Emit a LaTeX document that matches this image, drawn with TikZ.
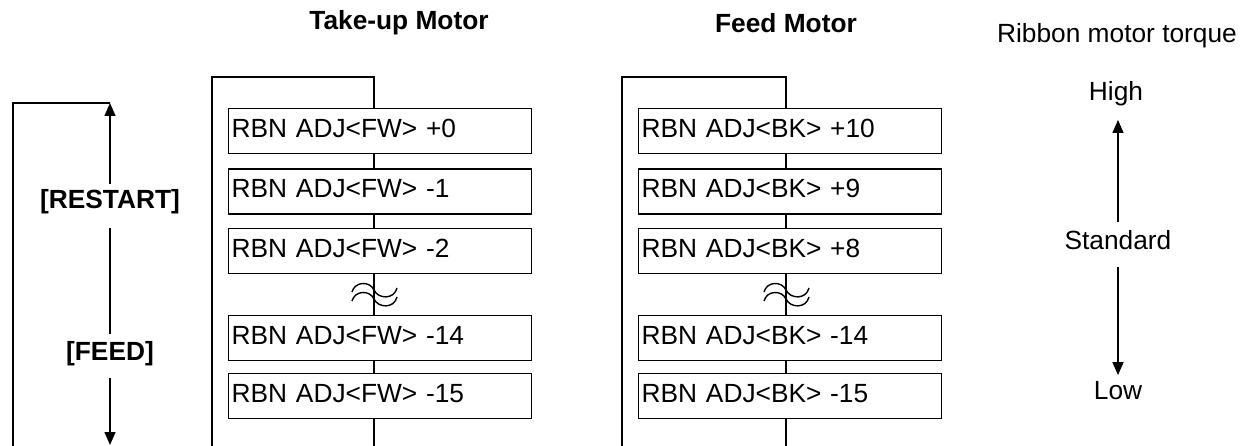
\documentclass[tikz,border=0pt]{standalone}
\usepackage{fontspec}
\setmainfont{Liberation Sans}
\usetikzlibrary{arrows.meta}
\newcommand\myfs{\fontsize{26.3}{30}\selectfont}
\newcommand\mywave[2]{%
  \draw[ln] (#1-22,#2+2) .. controls (#1-19,#2-9) and (#1-4,#2-9) .. (#1,#2) .. controls (#1+4,#2+9) and (#1+20,#2+10) .. (#1+23,#2-2);
  \draw[ln] (#1-22,#2+11) .. controls (#1-19,#2) and (#1-4,#2) .. (#1,#2+9) .. controls (#1+4,#2+18) and (#1+20,#2+19) .. (#1+23,#2+7);
}
\tikzset{
  ln/.style={line width=1.4pt},
  rbox/.style={draw, line width=1.4pt, rectangle, minimum width=303pt, minimum height=45pt,
    text width=297pt, text depth=6pt, align=left, inner xsep=3pt, inner ysep=0pt, anchor=north west, font=\myfs},
  lbl/.style={font=\myfs, inner sep=0pt},
  blbl/.style={font=\myfs\bfseries, inner sep=0pt},
  arr/.style={-{Triangle[width=11pt,length=13pt]}, line width=1.4pt}
}
\begin{document}
\begin{tikzpicture}[x=1pt,y=-1pt]
\useasboundingbox (0,0) rectangle (1251,446);

% titles
\node[blbl] (t1) at (399,23) {Take-up Motor};
\node[blbl] (t2) at (786,23) {Feed Motor};

% left bracket
\coordinate (b0) at (13,446);
\coordinate (b1) at (110,103);
\coordinate (b2) at (110,445);
\node[blbl] (restart) at (110,202) {[RESTART]};
\node[blbl] (feed) at (110,354) {[FEED]};
\draw[ln] (b0) |- (b1);
\draw[arr] ([yshift=6pt]restart.north) -- (b1);
\draw[ln] ([yshift=-14pt]restart.south) -- ([yshift=8pt]feed.north);
\draw[arr] ([yshift=-12pt]feed.south) -- (b2);

% left panel
\node[rbox] (l1) at (228,108) {RBN ADJ<FW> +0};
\node[rbox] (l2) at (228,168.5) {RBN ADJ<FW> -1};
\node[rbox] (l3) at (228,228) {RBN ADJ<FW> -2};
\node[rbox] (l4) at (228,315) {RBN ADJ<FW> -14};
\node[rbox] (l5) at (228,373) {RBN ADJ<FW> -15};
\coordinate (lp0) at (212,446);
\coordinate (lp1) at (374,77);
\coordinate (lp2) at (374,446);
\draw[ln] (lp0) |- (lp1) -- (lp1 |- l1.north);
\draw[ln] (lp1 |- l1.south) -- (lp1 |- l2.north);
\draw[ln] (lp1 |- l2.south) -- (lp1 |- l3.north);
\draw[ln] (lp1 |- l3.south) -- (lp1 |- l4.north);
\draw[ln] (lp1 |- l4.south) -- (lp1 |- l5.north);
\draw[ln] (lp1 |- l5.south) -- (lp2);
\mywave{374}{290}

% right panel
\node[rbox] (r1) at (638,108) {RBN ADJ<BK> +10};
\node[rbox] (r2) at (638,168.5) {RBN ADJ<BK> +9};
\node[rbox] (r3) at (638,228) {RBN ADJ<BK> +8};
\node[rbox] (r4) at (638,315) {RBN ADJ<BK> -14};
\node[rbox] (r5) at (638,373) {RBN ADJ<BK> -15};
\coordinate (rp0) at (622,446);
\coordinate (rp1) at (786,77);
\coordinate (rp2) at (786,446);
\draw[ln] (rp0) |- (rp1) -- (rp1 |- r1.north);
\draw[ln] (rp1 |- r1.south) -- (rp1 |- r2.north);
\draw[ln] (rp1 |- r2.south) -- (rp1 |- r3.north);
\draw[ln] (rp1 |- r3.south) -- (rp1 |- r4.north);
\draw[ln] (rp1 |- r4.south) -- (rp1 |- r5.north);
\draw[ln] (rp1 |- r5.south) -- (rp2);
\mywave{786}{290}

% torque scale
\node[lbl] (rmt) at (1117,36) {Ribbon motor torque};
\node[lbl] (high) at (1116,94) {High};
\node[lbl] (std) at (1118,240.5) {Standard};
\node[lbl] (low) at (1118,390.5) {Low};
\draw[arr] ([yshift=9pt]std.north) -- ([yshift=-13.5pt]std.north |- high.south);
\draw[arr] ([yshift=-17pt]std.south) -- ([yshift=6pt]low.north);
\end{tikzpicture}
\end{document}
